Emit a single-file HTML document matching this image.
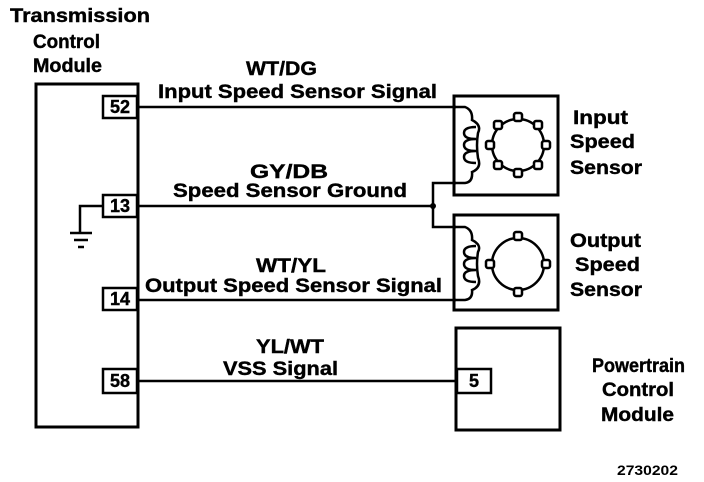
<!DOCTYPE html>
<html><head><meta charset="utf-8"><style>
html,body{margin:0;padding:0;background:#fff;}
svg{display:block;}
text{font-family:"Liberation Sans",Arial,sans-serif;font-weight:bold;fill:#000;}
</style></head><body>
<svg width="704" height="482" viewBox="0 0 704 482" xmlns="http://www.w3.org/2000/svg">
<g font-size="19" stroke="#000" stroke-width="0.4">
<text x="10" y="22" textLength="140" lengthAdjust="spacingAndGlyphs">Transmission</text>
<text x="33" y="48" textLength="67" lengthAdjust="spacingAndGlyphs">Control</text>
<text x="33" y="72" textLength="69" lengthAdjust="spacingAndGlyphs">Module</text>

<text x="246" y="75" textLength="71" lengthAdjust="spacingAndGlyphs">WT/DG</text>
<text x="158" y="98" textLength="279" lengthAdjust="spacingAndGlyphs">Input Speed Sensor Signal</text>
<text x="250" y="178" textLength="78" lengthAdjust="spacingAndGlyphs">GY/DB</text>
<text x="173" y="197" textLength="234" lengthAdjust="spacingAndGlyphs">Speed Sensor Ground</text>
<text x="256" y="272" textLength="70" lengthAdjust="spacingAndGlyphs">WT/YL</text>
<text x="145" y="292" textLength="297" lengthAdjust="spacingAndGlyphs">Output Speed Sensor Signal</text>
<text x="256" y="353" textLength="68" lengthAdjust="spacingAndGlyphs">YL/WT</text>
<text x="223" y="375" textLength="115" lengthAdjust="spacingAndGlyphs">VSS Signal</text>

<text x="573" y="124" textLength="55" lengthAdjust="spacingAndGlyphs">Input</text>
<text x="570" y="148" textLength="65" lengthAdjust="spacingAndGlyphs">Speed</text>
<text x="570" y="174" textLength="72" lengthAdjust="spacingAndGlyphs">Sensor</text>
<text x="570" y="247" textLength="71" lengthAdjust="spacingAndGlyphs">Output</text>
<text x="575" y="271" textLength="65" lengthAdjust="spacingAndGlyphs">Speed</text>
<text x="570" y="296" textLength="72" lengthAdjust="spacingAndGlyphs">Sensor</text>
<text x="592" y="372" textLength="93" lengthAdjust="spacingAndGlyphs">Powertrain</text>
<text x="602" y="396" textLength="72" lengthAdjust="spacingAndGlyphs">Control</text>
<text x="601" y="421" textLength="73" lengthAdjust="spacingAndGlyphs">Module</text>
</g>
<text x="617" y="475" font-size="14" textLength="61" lengthAdjust="spacingAndGlyphs">2730202</text>

<g fill="none" stroke="#000" stroke-width="3">
<rect x="36" y="84" width="102" height="343"/>
<rect x="454" y="96" width="104" height="99"/>
<rect x="454" y="215" width="104" height="95"/>
<rect x="456" y="328" width="104" height="102"/>
</g>
<g fill="#fff" stroke="#000" stroke-width="2.5">
<rect x="103" y="96" width="34" height="22"/>
<rect x="103" y="195" width="34" height="22"/>
<rect x="103" y="288" width="34" height="22"/>
<rect x="103" y="369" width="34" height="24"/>
<rect x="457" y="369" width="34" height="24"/>
</g>
<g font-size="18" stroke="#000" stroke-width="0.4">
<text x="120" y="113" text-anchor="middle">52</text>
<text x="120" y="212" text-anchor="middle">13</text>
<text x="120" y="305" text-anchor="middle">14</text>
<text x="120" y="387" text-anchor="middle">58</text>
<text x="474" y="387" text-anchor="middle">5</text>
</g>

<g fill="none" stroke="#000" stroke-width="2.5">
<line x1="138" y1="107" x2="456" y2="107"/>
<line x1="138" y1="206" x2="434" y2="206"/>
<line x1="138" y1="300" x2="456" y2="300"/>
<line x1="138" y1="381" x2="457" y2="381"/>
<polyline points="103,206 80,206 80,233"/>
<line x1="70" y1="233" x2="92" y2="233"/>
<line x1="74" y1="240" x2="88" y2="240"/>
<line x1="78" y1="247" x2="84" y2="247"/>
<polyline points="456,183 433,183 433,227 456,227"/>
<path d="M454,107 H465 Q473,110 472,120 Q482,125 478,133 Q476,145 478,158 Q482,168 472,172 Q473,182 465,183 H454"/>
<path d="M476,127 q-12,0 -12,6 q0,6 12,6 M476,139 q-12,0 -12,6 q0,6 12,6 M476,151 q-12,0 -12,6 q0,6 12,6"/>
<path d="M454,227 H465 Q473,230 472,240 Q482,245 478,252 Q476,264 478,276 Q482,286 472,290 Q473,299 465,300 H454"/>
<path d="M476,246 q-12,0 -12,6 q0,6 12,6 M476,258 q-12,0 -12,6 q0,6 12,6 M476,270 q-12,0 -12,6 q0,6 12,6"/>
<circle cx="518" cy="145" r="26"/>
<circle cx="518" cy="264" r="26"/>
</g>
<circle cx="433" cy="206" r="3" fill="#000"/>
<g fill="#fff" stroke="#000" stroke-width="2.5">
<rect x="514" y="113" width="8" height="8" rx="2"/>
<rect x="514" y="169" width="8" height="8" rx="2"/>
<rect x="486" y="141" width="8" height="8" rx="2"/>
<rect x="542" y="141" width="8" height="8" rx="2"/>
<rect x="494" y="121" width="8" height="8" rx="2"/>
<rect x="534" y="121" width="8" height="8" rx="2"/>
<rect x="494" y="161" width="8" height="8" rx="2"/>
<rect x="534" y="161" width="8" height="8" rx="2"/>
<rect x="514" y="232" width="8" height="8" rx="2"/>
<rect x="514" y="288" width="8" height="8" rx="2"/>
<rect x="486" y="260" width="8" height="8" rx="2"/>
<rect x="542" y="260" width="8" height="8" rx="2"/>
</g>
</svg>
</body></html>
